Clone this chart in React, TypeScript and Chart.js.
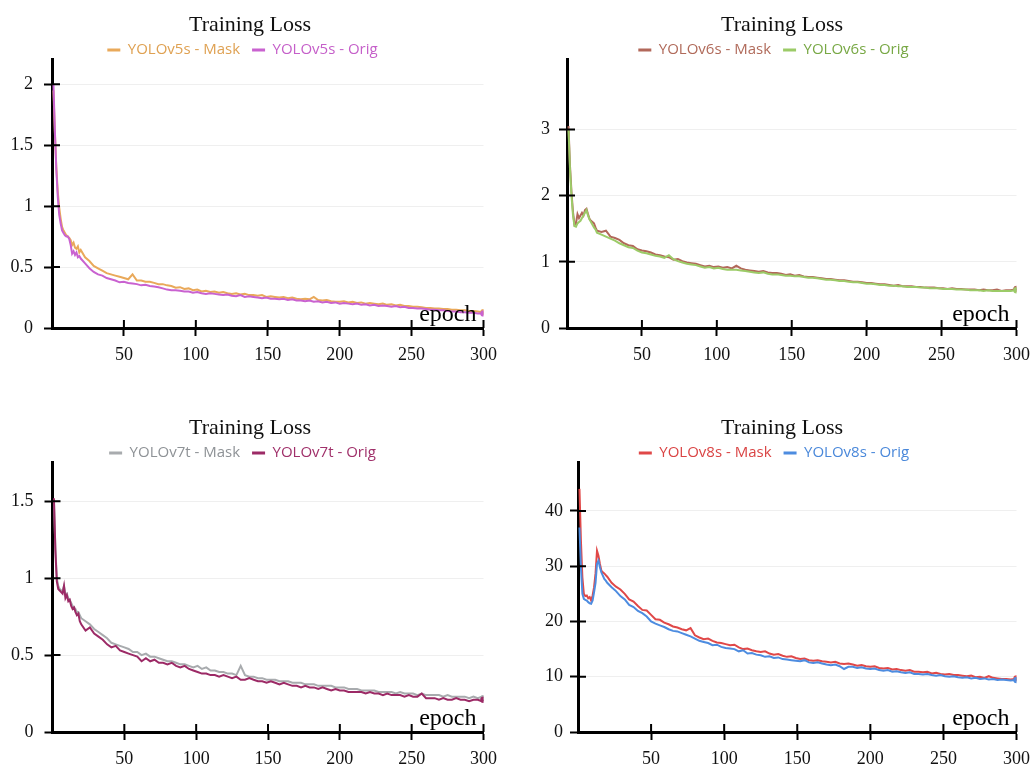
import React, { useEffect, useRef } from 'react';
import { Chart, registerables } from 'chart.js';

Chart.register(...registerables);

const epochs = [
  1, 2, 3, 4, 5, 6, 7, 8, 9, 10, 11, 12, 13, 14, 15, 16, 17, 18, 19, 20,
  23, 26, 29, 32, 35, 38, 41, 44, 47, 50,
  53, 56, 59, 62, 65, 68, 71, 74, 77, 80,
  83, 86, 89, 92, 95, 98, 101, 104, 107, 110,
  113, 116, 119, 122, 125, 128, 131, 134, 137, 140,
  143, 146, 149, 152, 155, 158, 161, 164, 167, 170,
  173, 176, 179, 182, 185, 188, 191, 194, 197, 200,
  203, 206, 209, 212, 215, 218, 221, 224, 227, 230,
  233, 236, 239, 242, 245, 248, 251, 254, 257, 260,
  263, 266, 269, 272, 275, 278, 281, 284, 287, 290,
  293, 296, 299, 300,
];

const xTickValues = [50, 100, 150, 200, 250, 300];

// ---- YOLOv5s ----
const v5sMask = [
  1.95, 1.6, 1.32, 1.12, 0.99, 0.9, 0.83, 0.8, 0.78, 0.76, 0.75, 0.74, 0.72, 0.68, 0.7, 0.66, 0.65, 0.67, 0.62, 0.64,
  0.58, 0.55, 0.51, 0.49, 0.47, 0.45, 0.44, 0.43, 0.42, 0.41,
  0.4, 0.44, 0.39, 0.39, 0.38, 0.38, 0.37, 0.36, 0.36, 0.35,
  0.345, 0.33, 0.335, 0.32, 0.325, 0.31, 0.315, 0.3, 0.305, 0.295,
  0.3, 0.29, 0.295, 0.285, 0.28, 0.285, 0.275, 0.28, 0.27, 0.27,
  0.265, 0.27, 0.255, 0.26, 0.255, 0.25, 0.255, 0.245, 0.25, 0.24,
  0.235, 0.24, 0.235, 0.255, 0.23, 0.225, 0.23, 0.22, 0.215, 0.215,
  0.22, 0.21, 0.215, 0.205, 0.21, 0.2, 0.205, 0.2, 0.195, 0.2,
  0.19, 0.195, 0.185, 0.19, 0.18, 0.18, 0.175, 0.175, 0.17, 0.165,
  0.165, 0.16, 0.16, 0.155, 0.155, 0.15, 0.15, 0.145, 0.145, 0.14,
  0.14, 0.135, 0.13, 0.13,
];
const v5sOrig = [
  2.0, 1.62, 1.3, 1.08, 0.93, 0.86, 0.8, 0.78, 0.76, 0.75, 0.75, 0.73, 0.68, 0.61, 0.63, 0.6, 0.62, 0.58, 0.59, 0.57,
  0.53, 0.49, 0.46, 0.44, 0.43, 0.41, 0.4, 0.39, 0.375, 0.38,
  0.37, 0.365, 0.36, 0.35, 0.355, 0.345, 0.34, 0.335, 0.325, 0.315,
  0.31, 0.31, 0.305, 0.3, 0.3, 0.29, 0.295, 0.285, 0.28, 0.285,
  0.28, 0.275, 0.27, 0.275, 0.265, 0.26, 0.27, 0.255, 0.26, 0.255,
  0.25, 0.245, 0.25, 0.24, 0.24, 0.235, 0.24, 0.23, 0.235, 0.225,
  0.225, 0.22, 0.225, 0.215, 0.22, 0.21, 0.215, 0.205, 0.21, 0.2,
  0.205, 0.2, 0.195, 0.2, 0.19, 0.195, 0.185, 0.19, 0.18, 0.185,
  0.18, 0.175, 0.18, 0.17, 0.175, 0.165, 0.165, 0.16, 0.16, 0.155,
  0.15, 0.15, 0.145, 0.145, 0.14, 0.135, 0.135, 0.13, 0.13, 0.125,
  0.125, 0.12, 0.12, 0.12,
];
const v5sYTicks = [0, 0.5, 1, 1.5, 2];

// ---- YOLOv6s ----
const v6sMask = [
  3.05, 2.45, 2.05, 1.75, 1.56, 1.58, 1.72, 1.66, 1.7, 1.74, 1.7, 1.78, 1.8, 1.72, 1.65, 1.62, 1.6, 1.58, 1.52, 1.47,
  1.45, 1.47, 1.38, 1.36, 1.33, 1.28, 1.25, 1.24, 1.19, 1.17,
  1.16, 1.14, 1.11, 1.1, 1.08, 1.07, 1.03, 1.04, 1.01, 0.99,
  0.98, 0.97, 0.95, 0.93, 0.94, 0.92, 0.93, 0.91, 0.92, 0.9,
  0.94, 0.9, 0.88, 0.87, 0.86, 0.85, 0.86, 0.84, 0.83, 0.83,
  0.82, 0.8, 0.81, 0.79, 0.8, 0.78, 0.77, 0.77, 0.76, 0.75,
  0.74, 0.74, 0.73, 0.72, 0.72, 0.71, 0.7, 0.7, 0.69, 0.68,
  0.68, 0.67, 0.66, 0.66, 0.65, 0.64, 0.65, 0.63, 0.63, 0.63,
  0.62, 0.62, 0.61, 0.61, 0.61, 0.6, 0.6, 0.59, 0.6, 0.59,
  0.59, 0.58, 0.58, 0.58, 0.57, 0.58, 0.57, 0.57, 0.58, 0.56,
  0.57, 0.57, 0.58, 0.59,
];
const v6sOrig = [
  3.0, 2.4, 2.0, 1.7, 1.54, 1.53, 1.58, 1.6, 1.62, 1.66, 1.7, 1.74, 1.78, 1.7, 1.64, 1.6, 1.56, 1.52, 1.49, 1.44,
  1.41, 1.38, 1.35, 1.32, 1.28, 1.25, 1.22, 1.21, 1.17, 1.14,
  1.13, 1.11, 1.09, 1.08, 1.06, 1.1, 1.04, 1.01, 0.99, 0.97,
  0.96, 0.95, 0.93, 0.91, 0.92, 0.9, 0.91, 0.89, 0.88, 0.88,
  0.88, 0.87, 0.86, 0.85, 0.84, 0.83, 0.84, 0.82, 0.81, 0.81,
  0.8, 0.79, 0.79, 0.78, 0.78, 0.77, 0.76, 0.76, 0.75, 0.74,
  0.73, 0.73, 0.72, 0.71, 0.71, 0.7, 0.69, 0.69, 0.68, 0.67,
  0.67, 0.66, 0.65, 0.65, 0.64, 0.64, 0.63, 0.63, 0.62, 0.62,
  0.62, 0.61, 0.61, 0.6, 0.6, 0.6, 0.59, 0.59, 0.59, 0.58,
  0.58, 0.58, 0.57, 0.57, 0.57, 0.56, 0.57, 0.56, 0.56, 0.56,
  0.56, 0.56, 0.57, 0.57,
];
const v6sYTicks = [0, 1, 2, 3];

// ---- YOLOv7t ----
const v7tMask = [
  1.5, 1.2, 1.0, 0.95, 0.93, 0.92, 0.92, 0.95, 0.89, 0.9, 0.87, 0.86, 0.84, 0.82, 0.81, 0.8, 0.78, 0.78, 0.76, 0.74,
  0.72, 0.7, 0.67, 0.65, 0.63, 0.61, 0.58, 0.57, 0.56, 0.55,
  0.54, 0.52, 0.52, 0.5, 0.51, 0.49, 0.49, 0.48, 0.47, 0.46,
  0.46, 0.45, 0.44, 0.44, 0.43, 0.42, 0.43, 0.41, 0.42, 0.4,
  0.4, 0.39, 0.39, 0.38, 0.38, 0.37, 0.43, 0.37, 0.36, 0.36,
  0.35, 0.35, 0.34, 0.34, 0.34, 0.33, 0.33, 0.33, 0.32, 0.32,
  0.32, 0.31, 0.31, 0.31, 0.3, 0.3, 0.3, 0.3, 0.29, 0.29,
  0.29, 0.28, 0.28, 0.28, 0.27, 0.27, 0.27, 0.27, 0.26, 0.26,
  0.26, 0.26, 0.25, 0.26, 0.25, 0.25, 0.25, 0.24, 0.25, 0.24,
  0.24, 0.24, 0.24, 0.23, 0.24, 0.23, 0.23, 0.23, 0.23, 0.22,
  0.23, 0.22, 0.23, 0.22,
];
const v7tOrig = [
  1.52, 1.18, 0.98, 0.93, 0.92, 0.91, 0.9, 0.95, 0.87, 0.89, 0.85, 0.86, 0.82, 0.8, 0.81, 0.78, 0.76, 0.77, 0.72, 0.7,
  0.66, 0.68, 0.64, 0.62, 0.6, 0.57, 0.55, 0.56, 0.53, 0.52,
  0.51, 0.5, 0.49, 0.46, 0.48, 0.46, 0.47, 0.45, 0.45, 0.44,
  0.45, 0.43, 0.42, 0.43, 0.41, 0.4, 0.39, 0.38, 0.38, 0.37,
  0.37, 0.36, 0.37, 0.36, 0.35, 0.36, 0.34, 0.34, 0.35, 0.34,
  0.33, 0.33, 0.32, 0.33, 0.32, 0.31, 0.32, 0.31, 0.3, 0.3,
  0.29, 0.3, 0.29, 0.29, 0.28, 0.29, 0.28, 0.27, 0.28, 0.27,
  0.27, 0.26, 0.26, 0.26, 0.26, 0.25, 0.26, 0.25, 0.25, 0.24,
  0.25, 0.24, 0.24, 0.24, 0.23, 0.24, 0.23, 0.23, 0.25, 0.22,
  0.22, 0.22, 0.21, 0.22, 0.21, 0.21, 0.22, 0.21, 0.21, 0.2,
  0.21, 0.21, 0.2, 0.21,
];
const v7tYTicks = [0, 0.5, 1, 1.5];

// ---- YOLOv8s ----
const v8sMask = [
  44, 34.6, 28, 25, 24.6, 24.7, 24.2, 24.4, 23.8, 24.7, 26.2, 28.7, 32.8, 31.9, 30.4, 29.2, 28.9, 28.7, 28.4, 28.1,
  27.0, 26.3, 25.8, 25.0, 24.0, 23.6, 22.8, 22.1, 22.0, 21.2,
  20.4, 20.3, 19.8, 19.5, 19.1, 18.9, 18.6, 18.4, 18.8, 17.5,
  17.1, 16.8, 16.9, 16.5, 16.2, 16.1, 15.9, 15.7, 15.8, 15.3,
  15.0, 15.1, 14.8, 14.6, 14.5, 14.6, 14.2, 14.0, 14.1, 13.8,
  13.6, 13.7, 13.4, 13.2, 13.3, 13.0, 12.9, 13.0, 12.8, 12.7,
  12.6, 12.7, 12.4, 12.3, 12.4, 12.2, 12.0, 12.1, 11.9, 11.8,
  11.9, 11.6, 11.5, 11.6, 11.3, 11.4, 11.2, 11.1, 11.2, 10.9,
  10.9, 10.8, 10.9, 10.6, 10.7, 10.5, 10.4, 10.5, 10.3, 10.3,
  10.2, 10.1, 10.2, 9.9, 10.0, 9.8, 10.1, 9.8, 9.7, 9.6,
  9.6, 9.5, 9.6, 9.7,
];
const v8sOrig = [
  37, 29.8, 25, 24.1, 23.9, 23.8, 23.5, 23.3, 23.2, 23.8, 25.3, 27, 30.4, 31, 29.8, 28.9, 28.3, 27.7, 27.4, 27.0,
  26.2, 25.5, 24.6, 24.0, 23.0, 22.6, 21.9, 21.5, 20.9, 20.0,
  19.6, 19.3, 19.0, 18.6, 18.3, 18.2, 17.9, 17.6, 17.3, 16.9,
  16.5, 16.3, 16.1, 15.7, 15.8, 15.4, 15.2, 15.1, 15.0, 14.6,
  14.8, 14.2, 14.3, 14.0, 13.9, 13.6, 13.7, 13.4, 13.5, 13.2,
  13.1, 13.0, 12.9, 12.8, 13.0, 12.6, 12.5, 12.6, 12.4, 12.2,
  12.1, 12.2, 11.9, 11.4, 11.8, 11.8, 11.6, 11.7, 11.5, 11.4,
  11.5, 11.2, 11.1, 11.2, 10.9, 11.0, 10.8, 10.7, 10.8, 10.5,
  10.5, 10.4, 10.5, 10.3, 10.2, 10.3, 10.1, 10.0, 10.1, 9.9,
  9.8, 9.9, 9.7, 9.8, 9.6, 9.7, 9.5, 9.6, 9.4, 9.5,
  9.4, 9.3, 9.4, 9.4,
];
const v8sYTicks = [0, 10, 20, 30, 40];

const SERIF = '"Liberation Serif", "Times New Roman", serif';
const SANS = '"Open Sans", "Noto Sans", sans-serif';

type Panel = {
  left: number; top: number; width: number; height: number;
  yWidth: number; xHeight: number; yPad: number; legendShift: number;
  yMax: number; yTicks: number[];
  labels: [string, string];
  series: [number[], number[]];
  lineColors: [string, string];
  textColors: [string, string];
};

const panels: Panel[] = [
  {
    left: -2, top: 0, width: 504, height: 370, yWidth: 54, xHeight: 42, yPad: 11, legendShift: -7.5,
    yMax: 2.2, yTicks: v5sYTicks,
    labels: ['YOLOv5s - Mask', 'YOLOv5s - Orig'], series: [v5sMask, v5sOrig],
    lineColors: ['#E9A95A', '#C962D0'], textColors: ['#DFA152', '#C55FC9'],
  },
  {
    left: 529, top: 0, width: 506, height: 370, yWidth: 38, xHeight: 42, yPad: 9, legendShift: -8.5,
    yMax: 4.05, yTicks: v6sYTicks,
    labels: ['YOLOv6s - Mask', 'YOLOv6s - Orig'], series: [v6sMask, v6sOrig],
    lineColors: ['#B2685A', '#9CCB68'], textColors: ['#B06A5A', '#78A845'],
  },
  {
    left: -2, top: 403, width: 504, height: 364, yWidth: 54.5, xHeight: 35, yPad: 11, legendShift: -7.5,
    yMax: 1.75, yTicks: v7tYTicks,
    labels: ['YOLOv7t - Mask', 'YOLOv7t - Orig'], series: [v7tMask, v7tOrig],
    lineColors: ['#A8ABAE', '#9C2A66'], textColors: ['#8E9296', '#A0306A'],
  },
  {
    left: 529, top: 403, width: 506, height: 364, yWidth: 49, xHeight: 35, yPad: 7, legendShift: -8,
    yMax: 48.7, yTicks: v8sYTicks,
    labels: ['YOLOv8s - Mask', 'YOLOv8s - Orig'], series: [v8sMask, v8sOrig],
    lineColors: ['#E04848', '#4D8CE0'], textColors: ['#DA4444', '#4A88DA'],
  },
];

const axisDecor = {
  id: 'axisDecor',
  afterDraw(chart: any) {
    const { ctx, chartArea, scales } = chart;
    const x = scales.x;
    const y = scales.y;
    ctx.save();
    ctx.strokeStyle = '#000';
    ctx.lineWidth = 2;
    ctx.beginPath();
    for (const t of y.ticks) {
      if (t.value === 0) continue;
      const py = y.getPixelForValue(t.value);
      ctx.moveTo(chartArea.left, py);
      ctx.lineTo(chartArea.left + 8, py);
    }
    for (const t of x.ticks) {
      const px = x.getPixelForValue(t.value);
      ctx.moveTo(px, chartArea.bottom);
      ctx.lineTo(px, chartArea.bottom - 8);
    }
    ctx.stroke();
    ctx.font = `24px ${SERIF}`;
    ctx.fillStyle = '#000';
    ctx.textAlign = 'right';
    ctx.textBaseline = 'alphabetic';
    ctx.fillText('epoch', chartArea.right - 7, chartArea.bottom - 7);
    ctx.restore();
  },
};

function LossChart({ p }: { p: Panel }) {
  const ref = useRef<HTMLCanvasElement | null>(null);
  useEffect(() => {
    if (!ref.current) return;
    const last = epochs.length - 1;
    const datasets = p.series.map((s, i) => ({
      label: p.labels[i],
      data: epochs.map((e, j) => ({ x: e, y: s[j] })),
      borderColor: p.lineColors[i],
      backgroundColor: p.lineColors[i],
      borderWidth: 2,
      pointRadius: (c: any) => (c.dataIndex === last ? 3.2 : 0),
      pointBorderWidth: 0,
      pointBackgroundColor: p.lineColors[i],
      tension: 0,
      order: i === 0 ? 1 : 0,
    }));
    const chart: any = new Chart(ref.current, {
      type: 'line',
      data: { datasets },
      plugins: [axisDecor],
      options: {
        animation: false,
        responsive: false,
        maintainAspectRatio: false,
        layout: { padding: { left: 0, right: 0, top: 0, bottom: 0 } },
        plugins: {
          title: {
            display: true,
            text: 'Training Loss',
            color: '#111',
            font: { family: SERIF, size: 22, weight: 'normal', lineHeight: 1.2 },
            padding: { top: 12, bottom: -8 },
          },
          legend: {
            display: true,
            maxHeight: 29.5,
            labels: {
              boxWidth: 13,
              boxHeight: 3,
              padding: 12,
              font: { family: SANS, size: 15 },
              generateLabels: (ch: any) =>
                ch.data.datasets.map((ds: any, i: number) => ({
                  text: ds.label,
                  fillStyle: ds.borderColor,
                  strokeStyle: ds.borderColor,
                  lineWidth: 0,
                  fontColor: p.textColors[i],
                  hidden: false,
                  datasetIndex: i,
                })),
            },
          },
          tooltip: { enabled: false },
        },
        scales: {
          x: {
            type: 'linear',
            min: 0,
            max: 300,
            afterBuildTicks: (s: any) => { s.ticks = xTickValues.map((v) => ({ value: v })); },
            afterFit: (s: any) => { s.height = p.xHeight; },
            grid: { drawOnChartArea: false, tickLength: 8, tickColor: '#000', tickWidth: 2 },
            border: { color: '#000', width: 3 },
            ticks: {
              color: '#111',
              font: { family: SERIF, size: 18, lineHeight: 1.6 },
              padding: 5,
              maxRotation: 0,
              autoSkip: false,
              callback: (v: any) => String(v),
            },
          },
          y: {
            type: 'linear',
            min: 0,
            max: p.yMax,
            afterBuildTicks: (s: any) => { s.ticks = p.yTicks.map((v) => ({ value: v })); },
            afterFit: (s: any) => { s.width = p.yWidth; },
            grid: { color: '#efefef', lineWidth: 1, tickLength: 8, tickColor: '#000', tickWidth: 2 },
            border: { color: '#000', width: 3 },
            ticks: {
              color: '#111',
              font: { family: SERIF, size: 18 },
              padding: p.yPad,
              autoSkip: false,
              callback: (v: any) => String(v),
            },
          },
        },
      } as any,
    });
    // shift the legend row slightly left of the title centre, as in the reference
    const lg = chart.legend;
    if (lg) {
      const origDraw = lg.draw.bind(lg);
      lg.draw = (...args: any[]) => {
        const c = chart.ctx;
        c.save();
        c.translate(p.legendShift, 0);
        origDraw(...args);
        c.restore();
      };
      chart.draw();
    }
    return () => chart.destroy();
  }, [p]);
  return (
    <canvas
      ref={ref}
      width={p.width}
      height={p.height}
      style={{ position: 'absolute', left: p.left, top: p.top, width: p.width, height: p.height }}
    />
  );
}

export default function App() {
  return (
    <div
      style={{
        position: 'absolute', left: 0, top: 0, width: 1031, height: 767,
        overflow: 'hidden', background: '#fff',
      }}
    >
      {panels.map((p, i) => (
        <LossChart key={i} p={p} />
      ))}
    </div>
  );
}
